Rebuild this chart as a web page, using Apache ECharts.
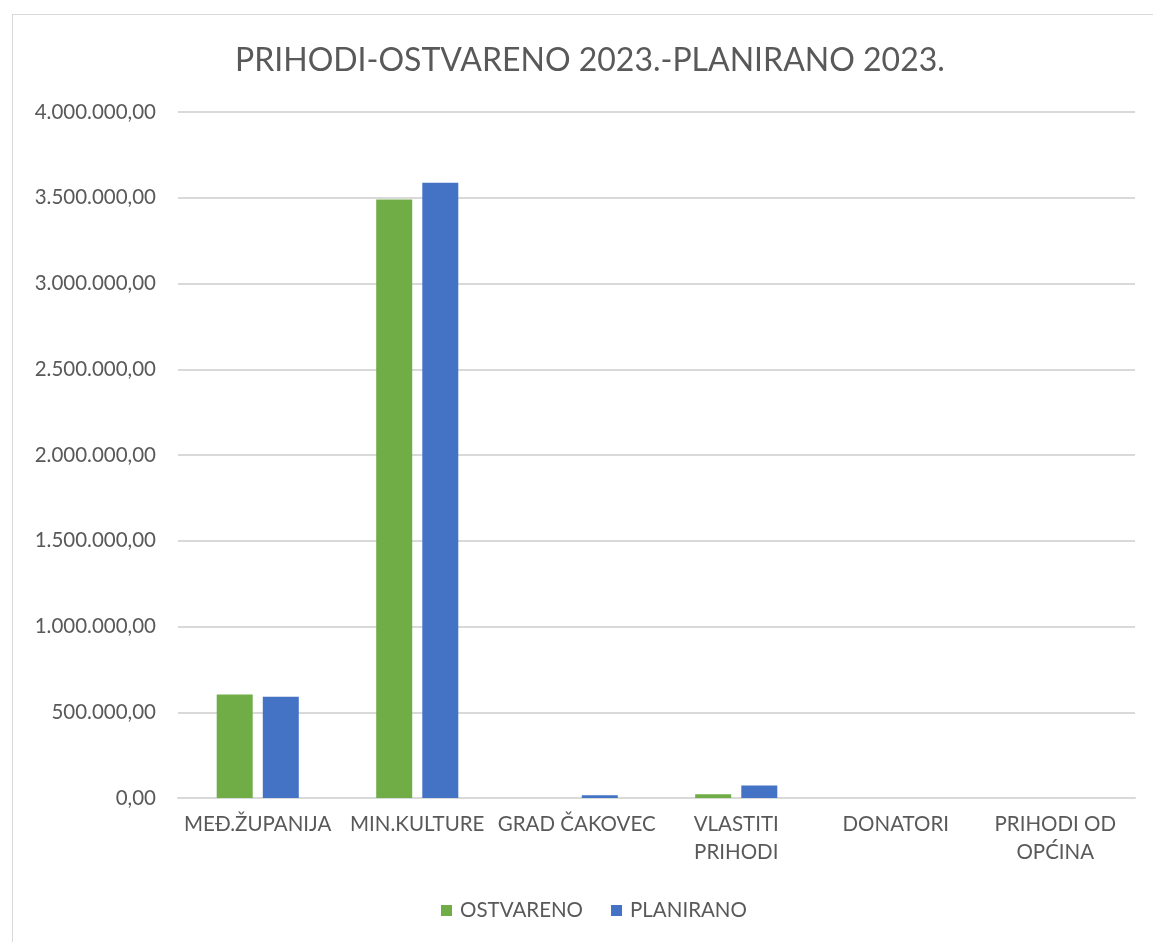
<!DOCTYPE html>
<html><head><meta charset="utf-8">
<script src="https://cdn.jsdelivr.net/npm/echarts@6/dist/echarts.min.js"></script>
<style>
html,body{margin:0;padding:0;background:#fff;}
#frame{position:absolute;left:12px;top:14px;width:1150px;height:940px;border:1px solid #d9d9d9;box-sizing:border-box;}
#c{position:absolute;left:0;top:0;width:1153px;height:942px;}
</style></head><body>
<div id="frame"></div>
<div id="c"></div>
<script>
const categories = ['MEĐ.ŽUPANIJA','MIN.KULTURE','GRAD ČAKOVEC','VLASTITI\nPRIHODI','DONATORI','PRIHODI OD\nOPĆINA'];
const ostvareno = [603000, 3490000, 0, 22000, 0, 0];
const planirano = [590000, 3588000, 16000, 73000, 0, 0];
const yTicks = [0, 500000, 1000000, 1500000, 2000000, 2500000, 3000000, 3500000, 4000000];

function fmt(v){
  const s = Math.round(v).toString().replace(/\B(?=(\d{3})+(?!\d))/g,'.');
  return s + ',00';
}
const font = 'Lato, "Open Sans", sans-serif';
const chart = echarts.init(document.getElementById('c'));
chart.setOption({
  animation:false,
  title:{text:'PRIHODI-OSTVARENO 2023.-PLANIRANO 2023.',left:230,top:40,
    textStyle:{fontFamily:font,fontSize:32,fontWeight:'normal',color:'#595959'}},
  legend:{bottom:16,left:436,itemWidth:11,itemHeight:11,itemGap:28,icon:'rect',
    textStyle:{fontFamily:font,fontSize:20.5,color:'#595959',padding:[0,0,0,3]}},
  grid:{left:178,right:18,top:112,bottom:144},
  xAxis:{type:'category',data:categories,
    axisLine:{lineStyle:{color:'#d9d9d9',width:2}},axisTick:{show:false},
    axisLabel:{fontFamily:font,fontSize:20.5,color:'#595959',margin:12,lineHeight:28,interval:0}},
  yAxis:{type:'value',min:yTicks[0],max:yTicks[yTicks.length-1],interval:500000,
    axisLine:{show:false},axisTick:{show:false},
    splitLine:{lineStyle:{color:'#d9d9d9',width:2}},
    axisLabel:{fontFamily:font,fontSize:20.5,color:'#595959',margin:22,formatter:fmt}},
  series:[
    {name:'OSTVARENO',type:'bar',data:ostvareno,barWidth:36,barGap:'28%',
      itemStyle:{color:'#70ad47'}},
    {name:'PLANIRANO',type:'bar',data:planirano,barWidth:36,
      itemStyle:{color:'#4472c4'}}
  ]
});
</script></body></html>
